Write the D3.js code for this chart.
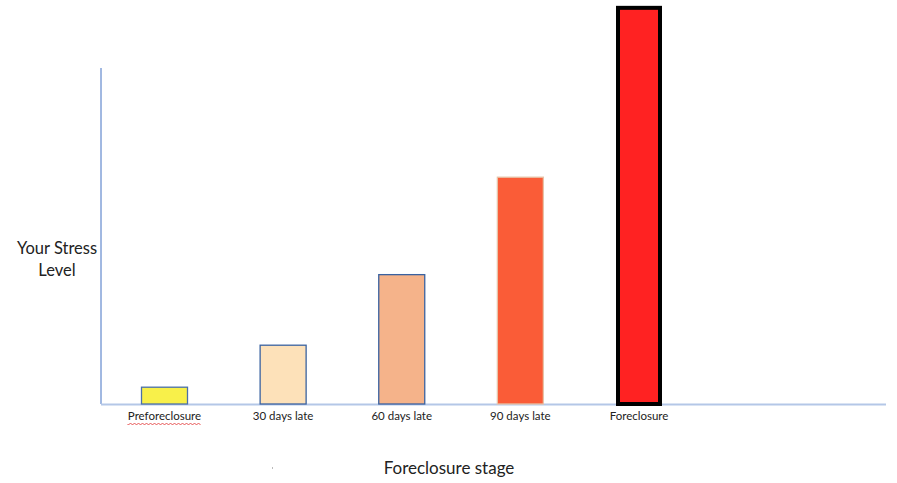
<!DOCTYPE html>
<html><head><meta charset="utf-8">
<script src="https://cdn.jsdelivr.net/npm/d3@7"></script>
<style>body{margin:0;background:#fff}svg{display:block}text{font-family:Lato,"Open Sans",sans-serif;fill:#222}</style>
</head><body><svg id="c" width="897" height="483"></svg>
<script>
const categories = ["Preforeclosure","30 days late","60 days late","90 days late","Foreclosure"];
const stress = [5, 17.5, 38.5, 67.5, 118.5];
const fills = ["#F8F04A","#FDE1B9","#F5B38A","#FA5C37","#FF2222"];
const strokes = ["#4A6FA8","#3A62A0","#3A62A0","#E7C3A8","#000000"];
const strokeW = [1.3,1.3,1.3,1.3,4];

const svg = d3.select("#c");
const y = d3.scaleLinear().domain([0,100]).range([404,68]);
const x = d3.scalePoint().domain(categories).range([164.5,639]);
const bw = 46;

// axes
svg.append("line").attr("x1",101).attr("x2",101).attr("y1",y(100)).attr("y2",y(0))
  .attr("stroke","#4472C4").attr("stroke-width",1);
svg.append("line").attr("x1",101).attr("x2",886).attr("y1",y(0)+0.5).attr("y2",y(0)+0.5)
  .attr("stroke","#B4C7E7").attr("stroke-width",2);

svg.selectAll("rect.bar").data(categories).join("rect").attr("class","bar")
  .attr("x",(d,i)=>x(d)-bw/2 + (i===4?2:0))
  .attr("width",(d,i)=>i===4?bw-4:bw)
  .attr("y",(d,i)=>y(stress[i]) + (i===4?2:0))
  .attr("height",(d,i)=>y(0)-y(stress[i]) - (i===4?2:0))
  .attr("fill",(d,i)=>fills[i])
  .attr("stroke",(d,i)=>strokes[i])
  .attr("stroke-width",(d,i)=>strokeW[i]);

svg.selectAll("text.tick").data(categories).join("text").attr("class","tick")
  .attr("x",d=>x(d)).attr("y",420).attr("text-anchor","middle")
  .attr("font-size",11.5).text(d=>d);

// spell-check squiggle under first label
(function(){
  const cx = x(categories[0]);
  const w = 74, x0 = cx - w/2, yy = 424;
  let p = `M${x0},${yy}`;
  for(let k=0;k<w/2;k++){ p += ` L${x0+k*2+1},${yy+(k%2?-1:1)}`; }
  svg.append("path").attr("d",p).attr("fill","none").attr("stroke","#E03030").attr("stroke-width",0.8);
})();

svg.append("text").attr("x",57).attr("y",254).attr("text-anchor","middle").attr("font-size",16.5).text("Your Stress");
svg.append("text").attr("x",57).attr("y",276).attr("text-anchor","middle").attr("font-size",16.5).text("Level");
svg.append("text").attr("x",449).attr("y",474).attr("text-anchor","middle").attr("font-size",17).text("Foreclosure stage");
svg.append("rect").attr("x",272).attr("y",467).attr("width",1).attr("height",2).attr("fill","#bbb");
</script></body></html>
